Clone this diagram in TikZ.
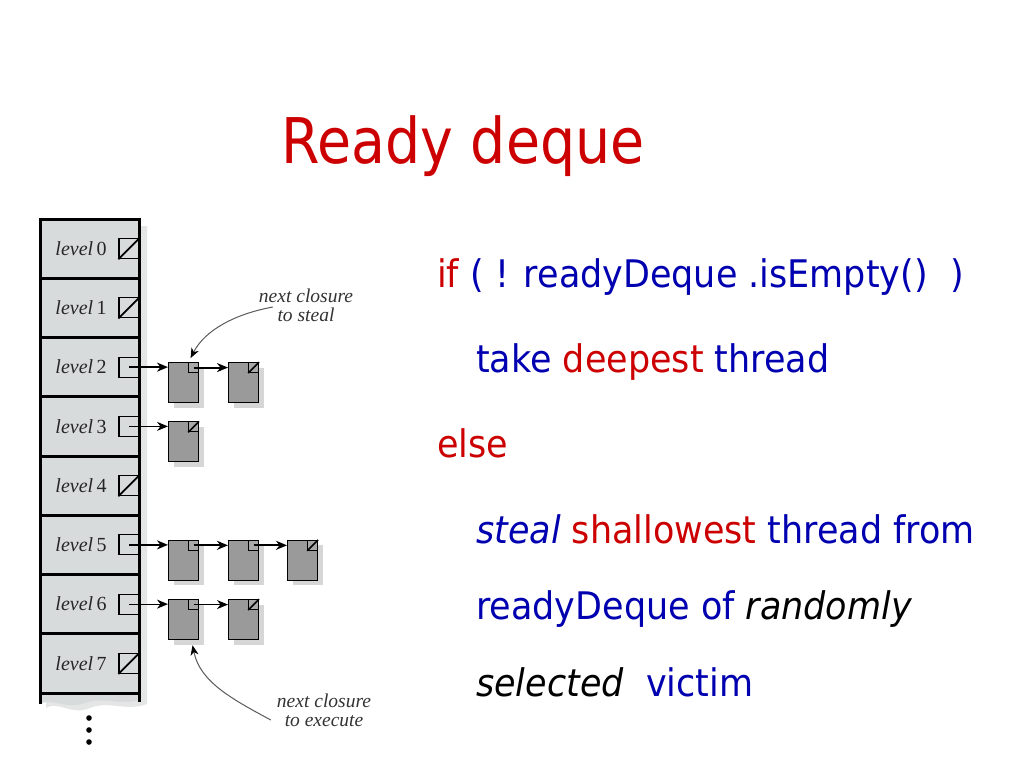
\documentclass[tikz,border=0pt]{standalone}
\usepackage{fontspec}
\setmainfont{DejaVu Sans}[FakeStretch=0.92]
\newfontfamily\titlefont{DejaVu Sans}[FakeStretch=0.88]
\newfontfamily\serif{Liberation Serif}
\usetikzlibrary{arrows.meta,shadows}
\definecolor{tred}{RGB}{204,0,0}
\definecolor{tblue}{RGB}{0,0,176}
\definecolor{colfill}{RGB}{216,219,219}
\definecolor{sidegray}{RGB}{228,229,229}
\definecolor{shgray}{RGB}{214,214,214}
\definecolor{closfill}{RGB}{154,154,154}
\definecolor{anngray}{RGB}{90,90,90}
\tikzset{
  lvl/.style={font=\serif\fontsize{20}{22}\selectfont, text=black!85, inner sep=0pt},
  slot/.style={draw=black, line width=1.2pt, fill=colfill, minimum size=20pt, inner sep=0pt},
  clos/.style={draw=black, line width=1.1pt, fill=closfill, minimum width=30pt, minimum height=40pt, inner sep=0pt,
    drop shadow={shadow xshift=5pt, shadow yshift=-5pt, fill=shgray, opacity=1}},
  corner/.style={draw=black, line width=0.9pt, fill=closfill!85!white, minimum size=10pt, inner sep=0pt},
  linkthick/.style={line width=1.9pt, -{Stealth[length=11pt,width=9pt,inset=3.5pt]}},
  linkthin/.style={line width=1.2pt, -{Stealth[length=11pt,width=9pt,inset=3.5pt]}},
  diag/.style={line width=1.7pt},
  ann/.style={font=\serif\itshape\fontsize{19.5}{22}\selectfont, text=black!80, align=center, inner sep=0pt},
  anncurve/.style={draw=anngray, line width=1pt, -{Stealth[length=10pt,width=8pt,inset=3pt,color=black]}},
  body/.style={anchor=base west, inner sep=0pt, font=\fontsize{38}{41}\selectfont},
}
\begin{document}
\begin{tikzpicture}[x=1pt,y=-1pt]
\useasboundingbox (0,0) rectangle (1024,768);
\fill[white] (0,0) rectangle (1024,768);

% column shadow and fill
\fill[sidegray] (46,226) -- (147,226) -- (147,704)
  .. controls (125,712) and (110,700) .. (90,708)
  .. controls (70,716) and (58,700) .. (46,708) -- cycle;
\fill[colfill] (40,219) -- (139,219) -- (139,700)
  .. controls (118,706) and (105,696) .. (85,703)
  .. controls (65,710) and (52,697) .. (40,704) -- cycle;

% slots and labels
\foreach \i in {0,...,7}{
  \pgfmathsetmacro\yc{219+59.25*(\i+0.5)}
  \node[lvl] (L\i) at (81,\yc) {\textit{level}\,\i};
  \node[slot] (S\i) at (129,\yc) {};
}
\foreach \i in {0,1,4,7}{
  \draw[diag] (S\i.south west) -- (S\i.north east);
}
% row separators and sides
\foreach \j in {0,...,8}{
  \pgfmathsetmacro\yr{219+59.25*\j}
  \draw[line width=3pt] (40,\yr) -- (139,\yr);
}
\draw[line width=3pt] (40,217.5) -- (40,704);
\draw[line width=3pt] (139,217.5) -- (139,702);

% dots
\foreach \d in {718,730,742}{
  \fill (89,\d) circle (2.8);
}

% closures: level 2
\node[clos, anchor=north west] (C20) at ([xshift=39pt,yshift=5pt]S2.center) {};
\node[clos, anchor=north west] (C21) at ([xshift=60pt]C20.north west) {};
% level 3
\node[clos, anchor=north west] (C30) at ([xshift=39pt,yshift=5pt]S3.center) {};
% level 5
\node[clos, anchor=north west] (C50) at ([xshift=39pt,yshift=5pt]S5.center) {};
\node[clos, anchor=north west] (C51) at ([xshift=60pt]C50.north west) {};
\node[clos, anchor=north west] (C52) at ([xshift=59pt]C51.north west) {};
% level 6
\node[clos, anchor=north west] (C60) at ([xshift=39pt,yshift=5pt]S6.center) {};
\node[clos, anchor=north west] (C61) at ([xshift=60pt]C60.north west) {};

\foreach \c in {C20,C21,C30,C50,C51,C52,C60,C61}{
  \node[corner, anchor=north east] (K\c) at (\c.north east) {};
}
\foreach \c in {C21,C30,C52,C61}{
  \draw[diag] (K\c.south west) -- (K\c.north east);
}

% links
\draw[linkthick] (S2.center) -- (C20.west |- S2.center);
\draw[linkthick] (KC20.center) -- (C21.west |- KC20.center);
\draw[linkthin] (S3.center) -- (C30.west |- S3.center);
\draw[linkthick] (S5.center) -- (C50.west |- S5.center);
\draw[linkthick] (KC50.center) -- (C51.west |- KC50.center);
\draw[linkthick] (KC51.center) -- (C52.west |- KC51.center);
\draw[linkthin] (S6.center) -- (C60.west |- S6.center);
\draw[linkthin] (KC60.center) -- (C61.west |- KC60.center);

% annotations
\node[ann] (steal) at (306,305) {next closure\\[-3pt]to steal};
\node[ann] (exec) at (324,710) {next closure\\[-3pt]to execute};
\coordinate (tipS) at ([xshift=7pt,yshift=4pt]C20.north);
\coordinate (tipE) at ([xshift=9pt,yshift=-5pt]C60.south);
\draw[anncurve] ([xshift=14pt,yshift=-2pt]steal.west) .. controls (235,314) and (205,330) .. (tipS);
\draw[anncurve] ([xshift=-6pt,yshift=-10pt]exec.west) .. controls (232,699) and (200,682) .. (tipE);

% title and text
\node[anchor=base west, inner sep=0pt, font=\titlefont\fontsize{63}{70}\selectfont, text=tred] (title) at (281,163) {Ready deque};

\node[body] (t1) at (437,287) {\color{tred}if \color{tblue}( ! readyDeque .isEmpty() \ )};
\node[body] (t2) at (476,372) {\color{tblue}take \color{tred}deepest \color{tblue}thread};
\node[body] (t3) at (437,457) {\color{tred}else};
\node[body] (t4) at (476,543) {\color{tblue}\itshape steal\upshape\ \color{tred}shallowest \color{tblue}thread from};
\node[body] (t5) at (476,619) {\color{tblue}readyDeque of \color{black}\itshape randomly};
\node[body] (t6) at (476,696) {\color{black}\itshape selected \ \upshape\color{tblue}victim};
\end{tikzpicture}
\end{document}
